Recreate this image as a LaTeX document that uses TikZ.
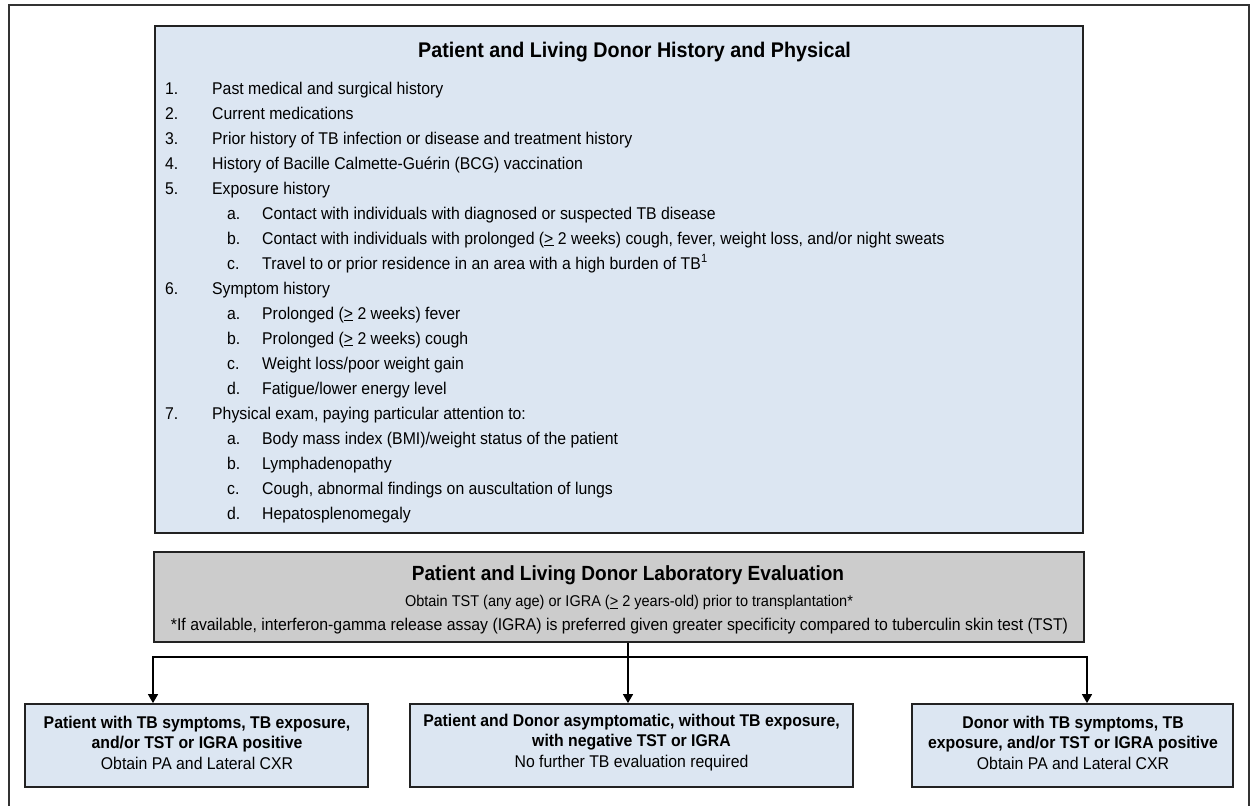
\documentclass[tikz,border=0pt]{standalone}
\usepackage{fontspec}
\setmainfont{Liberation Sans}[FakeStretch=0.93]
\usetikzlibrary{arrows.meta}
\definecolor{boxblue}{RGB}{220,230,242}
\definecolor{boxgray}{RGB}{204,204,204}
\definecolor{edgecol}{RGB}{34,34,34}
\definecolor{framecol}{RGB}{51,51,51}
\newcommand\mainrow[4]{%
  \node[lbl] (#1l) at (165,#2) {#3};
  \node[lbl] (#1t) at (212,#2) {#4};}
\newcommand\subrow[4]{%
  \node[lbl] (#1l) at (227,#2) {#3};
  \node[lbl] (#1t) at (262,#2) {#4};}
\newcommand\geqmark{(\underline{>}}
\tikzset{
  lbl/.style={anchor=base west, inner sep=0pt, font=\fontsize{17}{20}\selectfont},
  bluebox/.style={draw=edgecol, fill=boxblue, line width=1.8pt, inner sep=0pt},
  graybox/.style={draw=edgecol, fill=boxgray, line width=1.8pt, inner sep=0pt},
  outbox/.style={draw=edgecol, fill=boxblue, line width=1.8pt, inner sep=0pt,
    minimum height=83pt},
  outtext/.style={inner sep=0pt, align=center, font=\fontsize{17}{20.5}\selectfont},
  conn/.style={draw=black, line width=1.5pt},
  arr/.style={conn, -{Triangle[width=10pt,length=9pt]}},
  frameline/.style={draw=framecol, line width=1.5pt},
}
\begin{document}
\begin{tikzpicture}[x=1pt,y=-1pt]
\useasboundingbox (0,0) rectangle (1251,806);
\fill[white] (0,0) rectangle (1251,806);
% outer frame
\coordinate (f1) at (9,806);
\coordinate (f2) at (9,5);
\coordinate (f3) at (1249,5);
\coordinate (f4) at (1249,806);
\draw[frameline] (f1) -- (f2) -- (f3) -- (f4);

% history box
\node[bluebox, minimum width=928pt, minimum height=507pt] (hist) at (619,279.5) {};
\node[anchor=base west, inner sep=0pt, font=\fontsize{21.2}{24}\selectfont\bfseries] (htitle) at (418,57)
  {Patient and Living Donor History and Physical};
\mainrow{r1}{94}{1.}{Past medical and surgical history}
\mainrow{r2}{119}{2.}{Current medications}
\mainrow{r3}{144}{3.}{Prior history of TB infection or disease and treatment history}
\mainrow{r4}{169}{4.}{History of Bacille Calmette-Guérin (BCG) vaccination}
\mainrow{r5}{194}{5.}{Exposure history}
\subrow{r5a}{219}{a.}{Contact with individuals with diagnosed or suspected TB disease}
\subrow{r5b}{244}{b.}{Contact with individuals with prolonged \geqmark{} 2 weeks) cough, fever, weight loss, and/or night sweats}
\subrow{r5c}{269}{c.}{Travel to or prior residence in an area with a high burden of TB\textsuperscript{1}}
\mainrow{r6}{294}{6.}{Symptom history}
\subrow{r6a}{319}{a.}{Prolonged \geqmark{} 2 weeks) fever}
\subrow{r6b}{344}{b.}{Prolonged \geqmark{} 2 weeks) cough}
\subrow{r6c}{369}{c.}{Weight loss/poor weight gain}
\subrow{r6d}{394}{d.}{Fatigue/lower energy level}
\mainrow{r7}{419}{7.}{Physical exam, paying particular attention to:}
\subrow{r7a}{444}{a.}{Body mass index (BMI)/weight status of the patient}
\subrow{r7b}{469}{b.}{Lymphadenopathy}
\subrow{r7c}{494}{c.}{Cough, abnormal findings on auscultation of lungs}
\subrow{r7d}{519}{d.}{Hepatosplenomegaly}

% lab box
\node[graybox, minimum width=930pt, minimum height=90pt] (lab) at (619,597) {};
\node[anchor=base, inner sep=0pt, font=\fontsize{20.5}{24}\selectfont\bfseries] (labt1) at (628,580.5)
  {Patient and Living Donor Laboratory Evaluation};
\node[anchor=base, inner sep=0pt, font=\fontsize{15.6}{19}\selectfont] (labt2) at (629,606.5)
  {Obtain TST (any age) or IGRA \geqmark{} 2 years-old) prior to transplantation*};
\node[anchor=base, inner sep=0pt, font=\fontsize{17}{20}\selectfont] (labt3) at (619.5,630.5)
  {*If available, interferon-gamma release assay (IGRA) is preferred given greater specificity compared to tuberculin skin test (TST)};

% outcome boxes
\node[outbox, minimum width=343pt] (pL) at (196.5,745.5) {};
\node[outbox, minimum width=443pt] (pM) at (631.5,745.5) {};
\node[outbox, minimum width=321pt] (pR) at (1072.5,745.5) {};
\node[outtext] (pLt) at (197,742.5)
  {\bfseries Patient with TB symptoms, TB exposure,\\ \bfseries and/or TST or IGRA positive\\ Obtain PA and Lateral CXR};
\node[outtext] (pMt) at (631.5,742.5)
  {\bfseries Patient and Donor asymptomatic, without TB exposure,\\ \bfseries with negative TST or IGRA\\ No further TB evaluation required};
\node[outtext] (pRt) at (1073,742.5)
  {\bfseries Donor with TB symptoms, TB\\ \bfseries exposure, and/or TST or IGRA positive\\ Obtain PA and Lateral CXR};

% connectors
\coordinate (j) at (628,657);
\coordinate (xL) at (153,0);
\coordinate (xR) at (1087,0);
\draw[conn] (lab.south -| j) -- (j);
\draw[arr] (j) -| (pL.north -| xL);
\draw[arr] (j) -- (pM.north -| j);
\draw[arr] (j) -| (pR.north -| xR);
\end{tikzpicture}
\end{document}
